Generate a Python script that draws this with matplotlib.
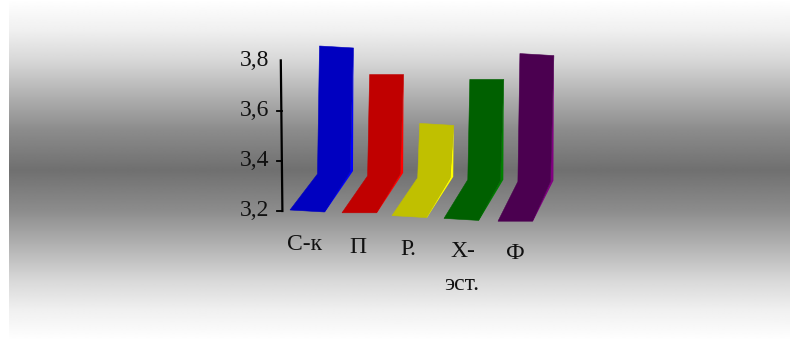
import numpy as np
from matplotlib import pyplot as plt
from matplotlib.patches import Polygon

# data
categories = ["С-к", "П", "Р.", "Х-\nэст.", "Ф"]
values = [3.80, 3.675, 3.455, 3.67, 3.80]
y_ticks = [3.2, 3.4, 3.6, 3.8]
y_tick_labels = ["3,2", "3,4", "3,6", "3,8"]

face_colors = ["#0000c0", "#c00000", "#c0c000", "#006000", "#4b0050"]
side_colors = ["#0000ff", "#ff0000", "#ffff00", "#008000", "#800080"]

# background shade against distance from the middle of the picture
band_dist = [0, 40, 70, 110, 140, 160, 170]
band_grey = [112, 140, 172, 216, 240, 250, 255]

plt.rcParams['font.family'] = ['Liberation Serif', 'DejaVu Serif']

fig = plt.figure(figsize=(7.9, 3.4), dpi=100)
ax = fig.add_axes([0, 0, 1, 1])
ax.axis('off')

rows = np.arange(340)
grey = np.interp(np.abs(rows - 170), band_dist, band_grey)
band = np.repeat(grey[:, None], 2, axis=1)
ax.imshow(band, cmap='gray', vmin=0, vmax=255, extent=[9, 790, 340, 0],
          aspect='auto', interpolation='bilinear', zorder=0)
ax.set_xlim(0, 790)
ax.set_ylim(340, 0)


def axis_y(v):
    return 211 - (v - 3.2) * 251


# the back walls sit further away, so they come out shorter than the axis
depth_scale = 0.85
wall_w = 35
floor_nudge = [0, 0, -2, -2, 0]
top_tilt = [2, 0, 2, 0, 2]
floor_tilt = [2, 0, 2, 2, 0]
back_tilt = [-3, -3, -1, 0, -1]

for i, v in enumerate(values):
    front_x = 290 + 52 * i + floor_nudge[i]
    front_y = 210 + 2.8 * i
    back_x = 317.5 + 50.1 * i
    back_y = 174 + 1.9 * i
    top_y = back_y - (axis_y(3.2) - axis_y(v)) * depth_scale

    fl = (front_x, front_y)
    fr = (front_x + wall_w, front_y + floor_tilt[i])
    bl = (back_x, back_y)
    br = (back_x + wall_w + 0.5, back_y + back_tilt[i])
    tl = (back_x + 2, top_y)
    tr = (back_x + wall_w + 1, top_y + top_tilt[i])

    # lighter sliver down the right hand side
    ax.add_patch(Polygon([tr, br, fr, (fr[0] - 1, fr[1]), (br[0] - 3, br[1] + 1)],
                         fc=side_colors[i], ec='none', zorder=2))
    ax.add_patch(Polygon([tl, tr, (br[0] - 3, br[1] + 1), (fr[0] - 0.5, fr[1]), fl, bl],
                         fc=face_colors[i], ec=face_colors[i], lw=0.4, zorder=3))

# y axis, leans a little
ax.plot([280.8, 282.4], [axis_y(3.8), axis_y(3.2)], color='black', lw=1.6, zorder=4)
for t, lab in zip(y_ticks, y_tick_labels):
    y = axis_y(t)
    # no tick mark at the top of the axis
    if t < max(y_ticks):
        ax.plot([277, 282], [y, y], color='black', lw=1.3, zorder=4)
    ax.text(269.5, y, lab, fontsize=17, ha='right', va='center', color='#111111', zorder=5)

# category labels, second line sits well below the first
label_nudge = [0, 0, -2, 0, 0]
for i, name in enumerate(categories):
    x = 305 + 52.6 * i + label_nudge[i]
    y = 250.5 + 2.2 * i
    for k, part in enumerate(name.split("\n")):
        ax.text(x - k, y + 32.5 * k, part, fontsize=17, ha='center',
                va='baseline', color='#111111', zorder=5)

plt.savefig('out.png', dpi=100)
